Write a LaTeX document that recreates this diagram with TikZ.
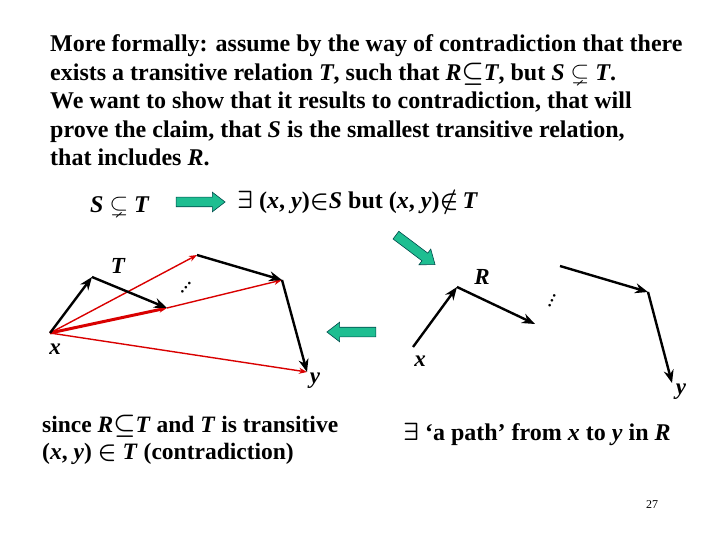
\documentclass[tikz,border=0pt]{standalone}
\usepackage{amssymb}
\usepackage{fontspec}
\setmainfont{Liberation Serif}
\usetikzlibrary{arrows.meta, positioning, shapes.arrows}
\definecolor{ngreen}{RGB}{30,190,145}
\newcommand{\rv}[1]{\textit{#1}}

\begin{document}
\begin{tikzpicture}[x=1pt, y=-1pt,
  txt/.style={font=\fontsize{24}{28.5}\selectfont\bfseries\boldmath, inner sep=0pt, anchor=base west, align=left},
  lbl/.style={font=\fontsize{23}{26}\selectfont\bfseries\itshape, inner sep=0pt},
  dotsl/.style={font=\fontsize{16}{16}\selectfont\bfseries, inner sep=0pt},
  edge/.style={-{Stealth[length=13pt,width=10pt]}, line width=2.4pt},
  redge/.style={-{Stealth[length=8pt,width=6pt]}, line width=1.4pt, draw=red!85!black},
  bigarr/.style={single arrow, draw=teal!60!black, line width=0.6pt, fill=ngreen, inner sep=4.5pt,
                 minimum height=49pt, single arrow head extend=5pt,
                 single arrow tip angle=75}
]
\useasboundingbox (0,0) rectangle (720,540);

% statement
\node[txt] (intro) at (50,166) {More formally: assume by the way of contradiction that there\\
  exists a transitive relation \rv{T}, such that \rv{R}$\subseteq$\rv{T}, but \rv{S} $\subsetneq$ \rv{T}.\\
  We want to show that it results to contradiction, that will\\
  prove the claim, that \rv{S} is the smallest transitive relation,\\
  that includes \rv{R}.};

\node[txt] (notsub) at (90,212) {\rv{S} $\subsetneq$ \rv{T}};
\node[txt] (exists) at (237,208) {$\exists$ (\rv{x}, \rv{y})$\in$\rv{S} but (\rv{x}, \rv{y})$\notin$\,\rv{T}};

\node[bigarr] (ar1) at (197.5,202) {};
\node[bigarr, rotate=-37] (ar2) at (413,248) {};
\node[bigarr, rotate=180] (ar3) at (354.5,332) {};

% left: T is transitive
\coordinate (xl) at (50,333);
\coordinate (ta) at (92,277);
\coordinate (tb) at (167,308);
\coordinate (tc) at (197,255);
\coordinate (td) at (282,280);
\coordinate (yl) at (307,372);

\draw[redge] (xl) -- (tc);
\draw[redge, line width=3pt] (xl) -- (tb);
\draw[redge] (tb) -- (td);
\draw[redge] (xl) -- (yl);
\draw[edge] (xl) -- (ta);
\draw[edge] (ta) -- (tb);
\draw[edge] (tc) -- (td);
\draw[edge] (td) -- (yl);

\node[lbl] (tlab) at (118,266) {T};
\node[lbl] (xlab) at (55,349) {x};
\node[lbl] (ylab) at (315,381) {y};
\node[dotsl, rotate=50] (dl) at (186,288) {\dots};

% right: path in R
\coordinate (xr) at (413,347);
\coordinate (ra) at (457,287);
\coordinate (rb) at (535,324);
\coordinate (rc) at (560,266);
\coordinate (rd) at (648,292);
\coordinate (yr) at (672,383);

\draw[edge] (xr) -- (ra);
\draw[edge] (ra) -- (rb);
\draw[edge] (rc) -- (rd);
\draw[edge] (rd) -- (yr);

\node[lbl] (rlab) at (482,277) {R};
\node[lbl] (xrlab) at (420,361) {x};
\node[lbl] (yrlab) at (681,392) {y};
\node[dotsl, rotate=65] (dr) at (552,301) {\dots};

% conclusions
\node[txt, font=\fontsize{23.5}{27}\selectfont\bfseries\boldmath] (since) at (42,459) {since \rv{R}$\subseteq$\rv{T} and \rv{T} is transitive\\
  (\rv{x}, \rv{y}) $\in$ \rv{T} (contradiction)};
\node[txt] (path) at (403,440) {$\exists$ ‘a path’ from \rv{x} to \rv{y} in \rv{R}};

\node[font=\fontsize{12}{12}\selectfont, inner sep=0pt, anchor=base] (pg) at (652,508) {27};
\end{tikzpicture}
\end{document}
